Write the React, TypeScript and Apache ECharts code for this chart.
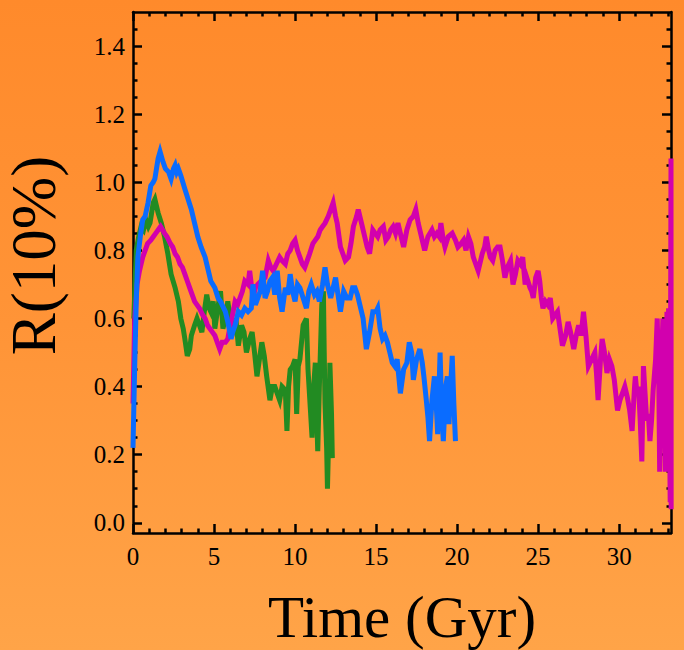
import React, { useEffect, useRef } from "react";
import * as echarts from "echarts";

const blueT = [0.0,0.1,0.2,0.3,0.45,0.6,0.75,0.93,1.1,1.25,1.35,1.45,1.55,1.67,1.85,2.0,2.2,2.35,2.5,2.6,2.7,2.8,2.95,3.2,3.4,3.6,3.8,4.0,4.2,4.45,4.6,4.8,5.05,5.25,5.4,5.7,5.85,6.05,6.15,6.3,6.5,6.7,6.9,7.1,7.3,7.4,7.55,7.7,7.85,8.0,8.15,8.3,8.45,8.6,8.75,8.9,9.05,9.2,9.4,9.55,9.7,9.85,10.0,10.15,10.3,10.5,10.7,10.85,11.0,11.2,11.35,11.5,11.7,11.85,12.0,12.2,12.35,12.5,12.65,12.8,13.0,13.2,13.4,13.55,13.7,13.85,14.0,14.2,14.4,14.6,14.8,15.0,15.1,15.25,15.4,15.55,15.7,15.85,16.0,16.15,16.3,16.5,16.7,16.9,17.05,17.2,17.3,17.5,17.7,17.85,17.95,18.1,18.2,18.3,18.45,18.6,18.7,18.8,18.95,19.05,19.15,19.3,19.4,19.5,19.6,19.7,19.8,19.9];
const blueR = [0.22,0.45,0.65,0.78,0.84,0.89,0.90,0.94,0.99,1.00,1.01,1.04,1.07,1.09,1.06,1.04,1.03,1.01,1.04,1.05,1.03,1.04,1.02,0.98,0.95,0.92,0.88,0.84,0.81,0.78,0.75,0.71,0.69,0.66,0.65,0.62,0.59,0.54,0.56,0.58,0.62,0.61,0.63,0.62,0.63,0.70,0.64,0.66,0.68,0.74,0.66,0.68,0.71,0.72,0.67,0.74,0.66,0.62,0.69,0.67,0.73,0.68,0.65,0.70,0.69,0.66,0.63,0.68,0.70,0.67,0.68,0.65,0.70,0.75,0.70,0.66,0.69,0.72,0.67,0.62,0.68,0.66,0.66,0.69,0.69,0.67,0.64,0.60,0.51,0.56,0.62,0.62,0.63,0.57,0.54,0.55,0.53,0.50,0.47,0.46,0.48,0.38,0.45,0.47,0.53,0.50,0.42,0.48,0.51,0.47,0.43,0.36,0.31,0.24,0.36,0.43,0.36,0.26,0.50,0.33,0.24,0.40,0.43,0.29,0.40,0.49,0.35,0.24];

const greenT = [0.05,0.2,0.35,0.5,0.65,0.8,0.95,1.05,1.15,1.25,1.35,1.45,1.55,1.75,1.95,2.15,2.35,2.6,2.8,2.95,3.1,3.2,3.35,3.5,3.6,3.8,3.95,4.1,4.25,4.4,4.55,4.7,4.8,4.95,5.05,5.2,5.4,5.55,5.7,5.85,6.0,6.2,6.35,6.5,6.7,6.85,7.0,7.2,7.35,7.5,7.65,7.8,7.95,8.1,8.25,8.45,8.6,8.75,8.9,9.05,9.2,9.4,9.5,9.6,9.7,9.85,10.0,10.1,10.2,10.3,10.5,10.7,10.8,10.95,11.05,11.15,11.25,11.4,11.5,11.65,11.75,11.8,11.85,11.95,12.0,12.1,12.15,12.25,12.3];
const greenR = [0.60,0.80,0.84,0.87,0.86,0.89,0.87,0.88,0.91,0.94,0.95,0.93,0.91,0.88,0.84,0.79,0.73,0.69,0.65,0.60,0.57,0.54,0.49,0.51,0.55,0.58,0.60,0.58,0.56,0.62,0.67,0.63,0.62,0.65,0.57,0.62,0.68,0.57,0.60,0.65,0.60,0.57,0.60,0.52,0.58,0.56,0.50,0.54,0.56,0.50,0.43,0.48,0.53,0.49,0.43,0.36,0.40,0.40,0.38,0.36,0.40,0.39,0.27,0.40,0.45,0.46,0.48,0.32,0.46,0.48,0.58,0.60,0.45,0.33,0.25,0.40,0.47,0.21,0.40,0.64,0.68,0.50,0.35,0.22,0.10,0.30,0.47,0.32,0.19];

const magT = [0.0,0.1,0.25,0.4,0.6,0.75,0.9,1.1,1.25,1.4,1.55,1.7,1.95,2.1,2.3,2.45,2.6,2.75,2.9,3.05,3.2,3.35,3.5,3.65,3.8,3.95,4.1,4.3,4.45,4.6,4.75,4.9,5.05,5.2,5.35,5.5,5.7,5.85,6.0,6.1,6.3,6.45,6.6,6.75,6.9,7.1,7.2,7.4,7.55,7.7,7.9,8.15,8.35,8.5,8.65,8.85,9.05,9.2,9.4,9.55,9.7,9.85,10.0,10.15,10.3,10.45,10.6,10.75,10.9,11.1,11.25,11.4,11.55,11.7,11.85,12.05,12.2,12.35,12.5,12.6,12.8,12.95,13.1,13.3,13.45,13.6,13.8,13.9,14.1,14.3,14.45,14.6,14.8,14.95,15.1,15.25,15.45,15.6,15.75,15.9,16.05,16.2,16.35,16.5,16.7,16.9,17.1,17.3,17.45,17.6,17.75,17.9,18.0,18.2,18.45,18.6,18.75,18.9,19.0,19.15,19.25,19.45,19.7,19.9,20.05,20.25,20.4,20.55,20.7,20.85,21.0,21.15,21.3,21.45,21.55,21.7,21.8,21.95,22.05,22.2,22.35,22.5,22.65,22.8,22.95,23.1,23.3,23.45,23.6,23.75,23.9,24.05,24.2,24.3,24.5,24.6,24.7,24.85,25.0,25.1,25.2,25.3,25.45,25.6,25.75,25.9,26.05,26.2,26.35,26.5,26.7,26.85,27.0,27.2,27.35,27.5,27.65,27.8,27.95,28.1,28.3,28.5,28.6,28.7,28.85,28.95,29.1,29.25,29.4,29.55,29.7,29.9,30.05,30.2,30.35,30.5,30.65,30.8,30.95,31.0,31.1,31.2,31.3,31.4,31.5,31.6,31.7,31.8,31.9,32.0,32.1,32.25,32.35,32.45,32.5,32.6,32.7,32.8,32.85,32.95,33.0,33.05,33.15,33.2,33.21];
const magR = [0.35,0.59,0.70,0.74,0.78,0.80,0.82,0.83,0.84,0.85,0.86,0.87,0.85,0.84,0.82,0.81,0.79,0.78,0.76,0.75,0.73,0.71,0.69,0.67,0.65,0.64,0.63,0.61,0.60,0.58,0.57,0.56,0.55,0.53,0.51,0.53,0.53,0.54,0.58,0.60,0.65,0.64,0.66,0.68,0.71,0.70,0.74,0.66,0.69,0.70,0.71,0.72,0.77,0.75,0.74,0.76,0.78,0.77,0.76,0.79,0.80,0.82,0.83,0.80,0.78,0.76,0.75,0.77,0.79,0.82,0.83,0.84,0.86,0.87,0.88,0.90,0.92,0.94,0.90,0.88,0.81,0.79,0.77,0.78,0.82,0.87,0.90,0.92,0.88,0.84,0.81,0.79,0.86,0.85,0.84,0.86,0.87,0.83,0.84,0.86,0.87,0.85,0.88,0.85,0.81,0.86,0.89,0.90,0.92,0.88,0.85,0.82,0.80,0.84,0.86,0.84,0.85,0.84,0.88,0.83,0.81,0.84,0.85,0.83,0.81,0.82,0.83,0.80,0.84,0.82,0.78,0.76,0.74,0.77,0.79,0.81,0.84,0.80,0.78,0.77,0.80,0.81,0.81,0.77,0.72,0.75,0.77,0.70,0.73,0.77,0.76,0.78,0.70,0.72,0.69,0.68,0.66,0.72,0.74,0.71,0.66,0.63,0.65,0.64,0.66,0.60,0.61,0.62,0.57,0.52,0.55,0.59,0.56,0.51,0.55,0.58,0.55,0.62,0.55,0.46,0.48,0.50,0.44,0.36,0.48,0.54,0.50,0.44,0.48,0.46,0.42,0.33,0.36,0.38,0.40,0.37,0.33,0.27,0.40,0.43,0.38,0.40,0.30,0.18,0.46,0.38,0.30,0.32,0.24,0.30,0.39,0.48,0.60,0.40,0.15,0.45,0.60,0.35,0.15,0.62,0.22,0.63,0.06,1.07,0.04];

const xMajor = [0, 5, 10, 15, 20, 25, 30];
const xMinor = [1,2,3,4,6,7,8,9,11,12,13,14,16,17,18,19,21,22,23,24,26,27,28,29,31,32,33];
const yMajor = [0, 0.2, 0.4, 0.6, 0.8, 1.0, 1.2, 1.4];
const yMinor = [0.05,0.1,0.15,0.25,0.3,0.35,0.45,0.5,0.55,0.65,0.7,0.75,0.85,0.9,0.95,1.05,1.1,1.15,1.25,1.3,1.35,1.45];

const X_MIN = 0, X_MAX = 33.2, Y_MIN = -0.03, Y_MAX = 1.5;
const FONT = "'Palatino Linotype', 'Book Antiqua', Palatino, 'Liberation Serif', serif";

const zip = (t: number[], r: number[]) => t.map((v, i) => [v, r[i]]);

export default function App() {
  const ref = useRef<HTMLDivElement>(null);
  useEffect(() => {
    if (!ref.current) return;
    const chart = echarts.init(ref.current, undefined, { renderer: "svg" });
    const black = "#000";
    const mkX = (pos: string, major: boolean, withLabel: boolean) => ({
      type: "value",
      position: pos,
      min: X_MIN,
      max: X_MAX,
      axisLine: { show: major, onZero: false, lineStyle: { color: black, width: 2.5 } },
      axisTick: {
        show: true,
        inside: true,
        length: major ? 9 : 4.5,
        customValues: major ? xMajor : xMinor,
        lineStyle: { color: black, width: 2.5 },
      },
      axisLabel: withLabel
        ? { show: true, customValues: xMajor, fontFamily: FONT, fontSize: 25, color: black, margin: 11 }
        : { show: false },
      splitLine: { show: false },
      ...(withLabel
        ? {
            name: "Time (Gyr)",
            nameLocation: "middle",
            nameGap: 54,
            nameTextStyle: { fontFamily: FONT, fontSize: 59, color: black },
          }
        : {}),
    });
    const mkY = (pos: string, major: boolean, withLabel: boolean) => ({
      type: "value",
      position: pos,
      min: Y_MIN,
      max: Y_MAX,
      axisLine: { show: major, onZero: false, lineStyle: { color: black, width: 2.5 } },
      axisTick: {
        show: true,
        inside: true,
        length: major ? 9 : 4.5,
        customValues: major ? yMajor : yMinor,
        lineStyle: { color: black, width: 2.5 },
      },
      axisLabel: withLabel
        ? {
            show: true,
            customValues: yMajor,
            fontFamily: FONT,
            fontSize: 25,
            color: black,
            margin: 8,
            formatter: (v: number) => v.toFixed(1),
          }
        : { show: false },
      splitLine: { show: false },
      ...(withLabel
        ? {
            name: "R(10%)",
            nameLocation: "middle",
            nameGap: 68,
            nameTextStyle: { fontFamily: FONT, fontSize: 63, color: black, padding: [0, 0, 0, 34] },
          }
        : {}),
    });
    const line = (name: string, t: number[], r: number[], color: string) => ({
      type: "line",
      name,
      data: zip(t, r),
      showSymbol: false,
      symbol: "none",
      clip: false,
      lineStyle: { color, width: 5, join: "miter" },
      xAxisIndex: 0,
      yAxisIndex: 0,
      z: 3,
    });
    chart.setOption({
      animation: false,
      grid: {
        left: 133,
        right: 13,
        top: 12,
        bottom: 117,
        containLabel: false,
        outerBoundsMode: "none",
      },
      xAxis: [mkX("bottom", true, true), mkX("bottom", false, false), mkX("top", true, false), mkX("top", false, false)],
      yAxis: [mkY("left", true, true), mkY("left", false, false), mkY("right", true, false), mkY("right", false, false)],
      series: [
        line("green", greenT, greenR, "#228B22"),
        line("magenta", magT, magR, "#D200AE"),
        line("blue", blueT, blueR, "#0A6CFF"),
      ],
    });
    return () => chart.dispose();
  }, []);
  return (
    <div
      style={{
        position: "fixed",
        left: 0,
        top: 0,
        width: 684,
        height: 650,
        background: "linear-gradient(to bottom, #FF8A2B 0%, #FF9437 50%, #FFA448 100%)",
      }}
    >
      <div ref={ref} style={{ width: 684, height: 650 }} />
    </div>
  );
}
